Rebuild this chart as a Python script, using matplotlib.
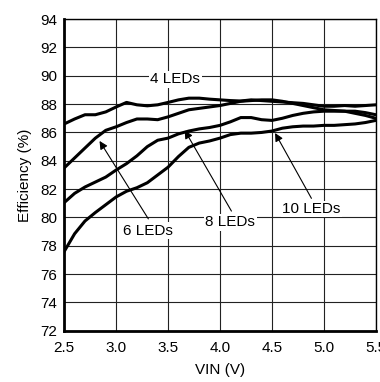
import matplotlib
matplotlib.use('Agg')
import matplotlib.pyplot as plt

plt.rcParams['font.family'] = ['Liberation Sans', 'DejaVu Sans']

# input voltage (V)
vin = [2.5, 2.6, 2.7, 2.8, 2.9, 3.0, 3.1, 3.2, 3.3, 3.4, 3.5,
       3.6, 3.7, 3.8, 3.9, 4.0, 4.1, 4.2, 4.3, 4.4, 4.5,
       4.6, 4.7, 4.8, 4.9, 5.0, 5.1, 5.2, 5.3, 5.4, 5.5]

# efficiency (%) per LED count
eff_4led = [86.6, 86.95, 87.25, 87.25, 87.45, 87.8, 88.12, 87.95, 87.88, 87.95, 88.12,
            88.3, 88.42, 88.42, 88.35, 88.3, 88.25, 88.22, 88.3, 88.25, 88.2,
            88.15, 88.1, 88.05, 87.95, 87.85, 87.85, 87.9, 87.85, 87.9, 87.95]
eff_6led = [83.5, 84.2, 84.9, 85.6, 86.15, 86.4, 86.7, 86.95, 86.95, 86.9, 87.1,
            87.35, 87.6, 87.7, 87.8, 87.9, 88.05, 88.2, 88.25, 88.3, 88.3,
            88.2, 88.05, 87.9, 87.75, 87.6, 87.55, 87.5, 87.5, 87.4, 87.25]
eff_8led = [81.05, 81.7, 82.15, 82.5, 82.85, 83.35, 83.8, 84.35, 85.0, 85.45, 85.6,
            85.9, 86.1, 86.25, 86.35, 86.5, 86.75, 87.05, 87.05, 86.9, 86.85,
            87.0, 87.2, 87.35, 87.45, 87.5, 87.5, 87.5, 87.35, 87.2, 87.0]
eff_10led = [77.6, 78.85, 79.75, 80.35, 80.9, 81.45, 81.85, 82.1, 82.45, 83.0, 83.55,
             84.3, 84.95, 85.25, 85.4, 85.6, 85.85, 85.95, 85.95, 86.0, 86.1,
             86.3, 86.4, 86.45, 86.45, 86.5, 86.5, 86.55, 86.6, 86.7, 86.85]

xticks = [2.5, 3.0, 3.5, 4.0, 4.5, 5.0, 5.5]
yticks = [72, 74, 76, 78, 80, 82, 84, 86, 88, 90, 92, 94]

fig = plt.figure(figsize=(3.8, 3.82), dpi=100)
ax = fig.add_axes([0.169, 0.134, 0.820, 0.816])

for eff in [eff_4led, eff_6led, eff_8led, eff_10led]:
    ax.plot(vin, eff, color='black', lw=2.2, zorder=3)

ax.set_xlim(2.5, 5.5)
ax.set_ylim(72, 94)
ax.set_xticks(xticks)
ax.set_xticklabels(['%.1f' % x for x in xticks])
ax.set_yticks(yticks)
ax.grid(True, color='#222222', lw=0.8)
ax.tick_params(axis='x', length=0, labelsize=11, pad=7)
ax.tick_params(axis='y', length=0, labelsize=11, pad=5)
for side in ['left', 'bottom']:
    ax.spines[side].set_linewidth(2)
for side in ['top', 'right']:
    ax.spines[side].set_linewidth(1)

ax.set_xlabel('VIN (V)', fontsize=11, labelpad=6)
ax.set_ylabel('Efficiency (%)', fontsize=11, labelpad=6)

box = dict(facecolor='white', edgecolor='none', pad=1)
arrow = dict(arrowstyle='-|>', color='black', lw=0.8, mutation_scale=12,
             shrinkA=0, shrinkB=0)

ax.text(3.57, 89.75, '4 LEDs', fontsize=11, ha='center', va='center', bbox=box, zorder=4)

ax.annotate('', xy=(2.84, 85.4), xytext=(3.31, 79.9), arrowprops=arrow, zorder=4)
ax.text(3.31, 79.07, '6 LEDs', fontsize=11, ha='center', va='center', bbox=box, zorder=4)

ax.annotate('', xy=(3.66, 86.15), xytext=(4.11, 80.45), arrowprops=arrow, zorder=4)
ax.text(4.10, 79.67, '8 LEDs', fontsize=11, ha='center', va='center', bbox=box, zorder=4)

ax.annotate('', xy=(4.53, 85.96), xytext=(4.88, 81.35), arrowprops=arrow, zorder=4)
ax.text(4.88, 80.6, '10 LEDs', fontsize=11, ha='center', va='center', bbox=box, zorder=4)

fig.savefig('out.png', dpi=100)
